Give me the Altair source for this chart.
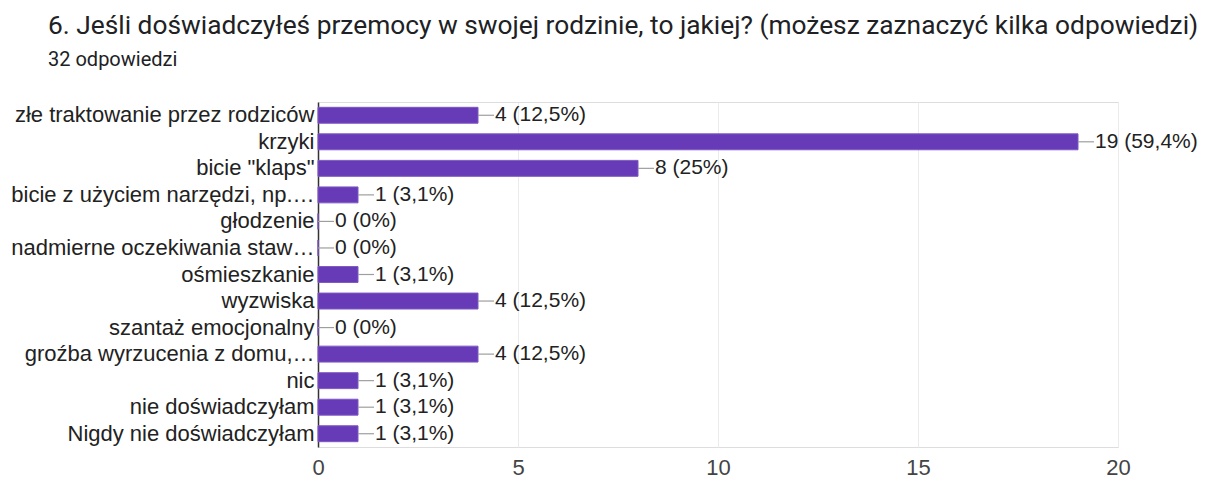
import altair as alt
import pandas as pd

categories = [
    "złe traktowanie przez rodziców",
    "krzyki",
    "bicie \"klaps\"",
    "bicie z użyciem narzędzi, np.…",
    "głodzenie",
    "nadmierne oczekiwania staw…",
    "ośmieszkanie",
    "wyzwiska",
    "szantaż emocjonalny",
    "groźba wyrzucenia z domu,…",
    "nic",
    "nie doświadczyłam",
    "Nigdy nie doświadczyłam",
]
counts = [4, 19, 8, 1, 0, 0, 1, 4, 0, 4, 1, 1, 1]
labels = ["4 (12,5%)", "19 (59,4%)", "8 (25%)", "1 (3,1%)", "0 (0%)", "0 (0%)",
          "1 (3,1%)", "4 (12,5%)", "0 (0%)", "4 (12,5%)", "1 (3,1%)", "1 (3,1%)", "1 (3,1%)"]

df = pd.DataFrame({"cat": categories, "n": counts, "lab": labels})

FONT = "Liberation Sans"
FS = 22

y = alt.Y("cat:N", sort=categories, title=None,
          scale=alt.Scale(paddingInner=0.4, paddingOuter=0.2),
          axis=alt.Axis(labelFont=FONT, labelFontSize=FS, labelColor="#222222",
                        labelLimit=0, ticks=False, domainColor="#333333",
                        domainWidth=1.5, labelPadding=4, grid=False))
x = alt.X("n:Q", title=None, scale=alt.Scale(domain=[0, 20]),
          axis=alt.Axis(values=[0, 5, 10, 15, 20], labelFont=FONT, labelFontSize=FS,
                        labelColor="#444444", ticks=False, domain=False, labelFlush=False,
                        gridColor="#ebebeb", labelBaseline="middle", labelPadding=20))

base = alt.Chart(df)
bars = base.mark_bar(color="#673ab7", stroke="#7e57c2", strokeWidth=1).encode(x=x, y=y)
rules = base.mark_rule(color="#9e9e9e", strokeWidth=1.2, x2Offset=16).encode(
    x="n:Q", x2="n:Q", y=alt.Y("cat:N", sort=categories, bandPosition=0.5))
texts = base.mark_text(align="left", baseline="middle", dx=17, font=FONT,
                       fontSize=21, color="#222222").encode(
    x="n:Q", y=alt.Y("cat:N", sort=categories), text="lab:N")

chart = (bars + rules + texts).properties(
    width=800, height=345,
    autosize=alt.AutoSizeParams(type="none"),
    padding={"left": 310, "top": 94, "right": 82, "bottom": 32},
    title=alt.TitleParams(
        text="6. Jeśli doświadczyłeś przemocy w swojej rodzinie, to jakiej? (możesz zaznaczyć kilka odpowiedzi)",
        subtitle="32 odpowiedzi",
        anchor="start", frame="group", dx=-270, offset=32,
        font="Roboto", fontSize=26.3, fontWeight="normal", color="#202124",
        subtitleFont="Roboto", subtitleFontSize=20, subtitleColor="#202124",
        subtitlePadding=11),
).configure_view(stroke="#ebebeb").configure(background="white")

chart.save("out.html", embed_options={"renderer": "svg", "actions": False})
